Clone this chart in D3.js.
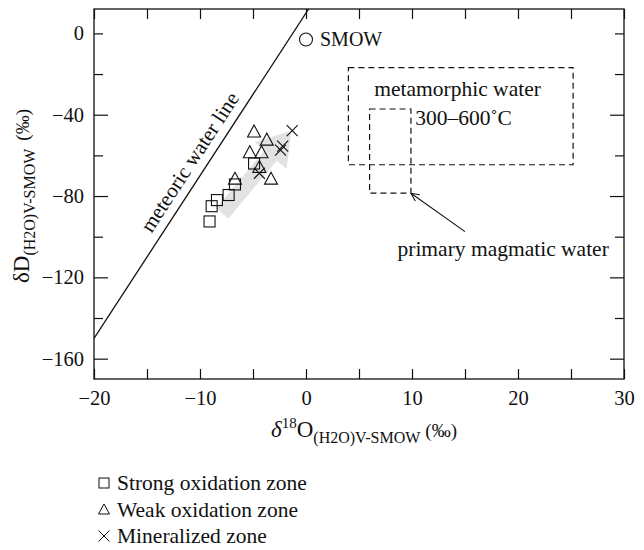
<!DOCTYPE html>
<html>
<head>
<meta charset="utf-8">
<script src="https://cdn.jsdelivr.net/npm/d3@7"></script>
<style>
  body { margin: 0; background: #fff; }
  svg text { font-family: "Liberation Serif", "Times New Roman", serif; fill: #111; }
</style>
</head>
<body>
<svg id="chart" width="644" height="550"></svg>
<script>
// values: [δ18O, δD]
var strongOx = [[-9.1, -92.5], [-8.9, -85], [-8.4, -82], [-7.3, -79.5], [-6.7, -74.3], [-4.9, -64]];
var weakOx = [[-4.9, -48.5], [-3.7, -52.5], [-5.3, -58.7], [-4.2, -58.7], [-4.4, -66], [-3.3, -71.7], [-6.7, -71.7]];
var mineralized = [[-1.3, -47.8], [-2.2, -55.4], [-2.4, -57.4], [-4.4, -68.8]];
var smow = [0, -3];
var trendArrow = [[-7.9, -88.5], [-1.4, -48]];
var metamorphicBox = [4, 25.2, -16.8, -64.6];   // x0, x1, y0, y1
var magmaticBox = [6, 9.9, -37.2, -78.6];
var xTicks = [-20, -15, -10, -5, 0, 5, 10, 15, 20, 25, 30];
var xLabels = [-20, -10, 0, 10, 20, 30];
var yTicks = [0, -20, -40, -60, -80, -100, -120, -140, -160];
var yLabels = [0, -40, -80, -120, -160];
var legendItems = ["Strong oxidation zone", "Weak oxidation zone", "Mineralized zone"];

var svg = d3.select("#chart");
var x = d3.scaleLinear().domain([-20, 30]).range([94, 624]);
var y = d3.scaleLinear().domain([-170, 12]).range([379, 9]);

var defs = svg.append("defs");
defs.append("clipPath").attr("id", "plot")
    .append("rect").attr("x", 94).attr("y", 9).attr("width", 530).attr("height", 370);

/* gray trend arrow, built in pixel space from the data end points */
var p0 = [x(trendArrow[0][0]), y(trendArrow[0][1])],
    p1 = [x(trendArrow[1][0]), y(trendArrow[1][1])];
var dx = p1[0] - p0[0], dy = p1[1] - p0[1], len = Math.sqrt(dx * dx + dy * dy);
var ux = dx / len, uy = dy / len, nx = -uy, ny = ux;
var sw = 8, hw = 21, hl = 32;
var hb = [p1[0] - ux * hl, p1[1] - uy * hl];
var arrowPts = [
    [p0[0] + nx * sw, p0[1] + ny * sw],
    [hb[0] + nx * sw, hb[1] + ny * sw],
    [hb[0] + nx * hw, hb[1] + ny * hw],
    p1,
    [hb[0] - nx * hw, hb[1] - ny * hw],
    [hb[0] - nx * sw, hb[1] - ny * sw],
    [p0[0] - nx * sw, p0[1] - ny * sw]
];
svg.append("polygon")
    .attr("points", arrowPts.map(function (d) { return d.join(","); }).join(" "))
    .style("fill", "#e2e2e2");

/* meteoric water line: dD = 8 d18O + 10 */
var mwl = [[-20, -150], [0.25, 12]];
svg.append("line")
    .attr("clip-path", "url(#plot)")
    .attr("x1", x(mwl[0][0])).attr("y1", y(mwl[0][1]))
    .attr("x2", x(mwl[1][0])).attr("y2", y(mwl[1][1]))
    .style("stroke", "#111").style("stroke-width", 1.3);

var ang = Math.atan2(y(mwl[1][1]) - y(mwl[0][1]), x(mwl[1][0]) - x(mwl[0][0])) * 180 / Math.PI;
var lx = x(-9.7), ly = y(8 * -9.7 + 10);
svg.append("text")
    .attr("transform", "translate(" + lx + "," + ly + ") rotate(" + ang + ") translate(0,-9)")
    .attr("text-anchor", "middle")
    .style("font-size", "21px")
    .text("meteoric water line");

/* dashed boxes */
function box(b) {
    svg.append("rect")
        .attr("x", x(b[0])).attr("y", y(b[2]))
        .attr("width", x(b[1]) - x(b[0])).attr("height", y(b[3]) - y(b[2]))
        .style("fill", "none").style("stroke", "#111")
        .style("stroke-width", 1.2).style("stroke-dasharray", "6,4");
}
box(metamorphicBox);
box(magmaticBox);

svg.append("text").attr("x", x(14.3)).attr("y", y(-31))
    .attr("text-anchor", "middle").style("font-size", "21.5px").text("metamorphic water");
svg.append("text").attr("x", x(10.3)).attr("y", y(-45))
    .style("font-size", "21.5px").text("300–600˚C");
svg.append("text").attr("x", x(18.6)).attr("y", y(-109.5))
    .attr("text-anchor", "middle").style("font-size", "21.5px").text("primary magmatic water");

/* pointer to the corner of the magmatic box */
var tip = [x(magmaticBox[1]), y(magmaticBox[3])], tail = [x(15), y(-97.5)];
svg.append("line")
    .attr("x1", tail[0]).attr("y1", tail[1]).attr("x2", tip[0]).attr("y2", tip[1])
    .style("stroke", "#111").style("stroke-width", 1.1);
var pa = Math.atan2(tail[1] - tip[1], tail[0] - tip[0]);
[0.45, -0.45].forEach(function (o) {
    svg.append("line")
        .attr("x1", tip[0]).attr("y1", tip[1])
        .attr("x2", tip[0] + 9 * Math.cos(pa + o)).attr("y2", tip[1] + 9 * Math.sin(pa + o))
        .style("stroke", "#111").style("stroke-width", 1.1);
});

/* SMOW */
svg.append("circle").attr("cx", x(smow[0])).attr("cy", y(smow[1])).attr("r", 6.5)
    .style("fill", "none").style("stroke", "#111").style("stroke-width", 1.1);
svg.append("text").attr("x", x(smow[0]) + 14).attr("y", y(smow[1]) + 7)
    .style("font-size", "20px").text("SMOW");

/* markers */
var mk = svg.append("g").style("fill", "none").style("stroke", "#111").style("stroke-width", 1.1);
var shape = {
    square: function (g) { g.append("rect").attr("x", -5.5).attr("y", -5.5).attr("width", 11).attr("height", 11); },
    triangle: function (g) { g.append("path").attr("d", "M0,-7L6.5,5L-6.5,5Z"); },
    cross: function (g) { g.append("path").attr("d", "M-5.5,-5.5L5.5,5.5M-5.5,5.5L5.5,-5.5"); }
};
function plot(data, kind) {
    mk.selectAll(null).data(data).enter().append("g")
        .attr("transform", function (d) { return "translate(" + x(d[0]) + "," + y(d[1]) + ")"; })
        .each(function () { shape[kind](d3.select(this)); });
}
plot(strongOx, "square");
plot(weakOx, "triangle");
plot(mineralized, "cross");

/* frame and inward ticks on all sides */
function styleAxis(g) {
    g.select(".domain").remove();
    g.selectAll(".tick line").style("stroke", "#111").style("stroke-width", 1.2);
    g.selectAll("text").style("font-size", "20.5px").style("font-family", "Liberation Serif");
}
var xfmt = function (d) { return xLabels.indexOf(d) >= 0 ? d3.format("")(d) : ""; };
var yfmt = function (d) { return yLabels.indexOf(d) >= 0 ? d3.format("")(d) : ""; };

svg.append("g").attr("transform", "translate(0,379)")
    .call(d3.axisBottom(x).tickValues(xTicks).tickSize(-10).tickPadding(11).tickFormat(xfmt))
    .call(styleAxis);
svg.append("g").attr("transform", "translate(0,9)")
    .call(d3.axisTop(x).tickValues(xTicks).tickSize(-10).tickFormat(""))
    .call(styleAxis);
svg.append("g").attr("transform", "translate(94,0)")
    .call(d3.axisLeft(y).tickValues(yTicks).tickSize(-9).tickPadding(10).tickFormat(yfmt))
    .call(styleAxis)
    .selectAll(".tick line").attr("x2", function (d) { return d !== 0 && yLabels.indexOf(d) >= 0 ? 14 : 9; });
svg.append("g").attr("transform", "translate(624,0)")
    .call(d3.axisRight(y).tickValues(yTicks).tickSize(-9).tickFormat(""))
    .call(styleAxis)
    .selectAll(".tick line").attr("x2", function (d) { return d !== 0 && yLabels.indexOf(d) >= 0 ? -14 : -9; });

svg.append("rect").attr("x", 94).attr("y", 9).attr("width", 530).attr("height", 370)
    .style("fill", "none").style("stroke", "#111").style("stroke-width", 1.3);

/* axis titles */
var xt = svg.append("text").attr("x", 364).attr("y", 437).attr("text-anchor", "middle").style("font-size", "23px");
xt.append("tspan").style("font-style", "italic").text("δ");
xt.append("tspan").attr("dy", -9).style("font-size", "15px").text("18");
xt.append("tspan").attr("dy", 9).text("O");
xt.append("tspan").attr("dy", 6).style("font-size", "16px").text("(H2O)V-SMOW");
xt.append("tspan").attr("dy", -6).attr("dx", 5).style("font-size", "19px").text("(‰)");

var yt = svg.append("text").attr("transform", "translate(29,196) rotate(-90)")
    .attr("text-anchor", "middle").style("font-size", "23px");
yt.append("tspan").text("δD");
yt.append("tspan").attr("dy", 6).style("font-size", "16px").text("(H2O)V-SMOW");
yt.append("tspan").attr("dy", -6).attr("dx", 8).style("font-size", "19px").text("(‰)");

/* legend */
var lg = svg.append("g").attr("transform", "translate(104,483)");
var rows = lg.selectAll("g").data(legendItems).enter().append("g")
    .attr("transform", function (d, i) { return "translate(0," + i * 26.5 + ")"; });
rows.each(function (d, i) {
    var g = d3.select(this).append("g").style("fill", "none").style("stroke", "#111").style("stroke-width", 1);
    if (i === 0) g.append("rect").attr("x", -5).attr("y", -5).attr("width", 10).attr("height", 10);
    if (i === 1) g.append("path").attr("d", "M0,-5.5L5.5,4.5L-5.5,4.5Z");
    if (i === 2) g.append("path").attr("d", "M-5.5,-5.5L5.5,5.5M-5.5,5.5L5.5,-5.5");
});
rows.append("text").attr("x", 13).attr("y", 7).style("font-size", "21.5px").text(function (d) { return d; });
</script>
</body>
</html>
